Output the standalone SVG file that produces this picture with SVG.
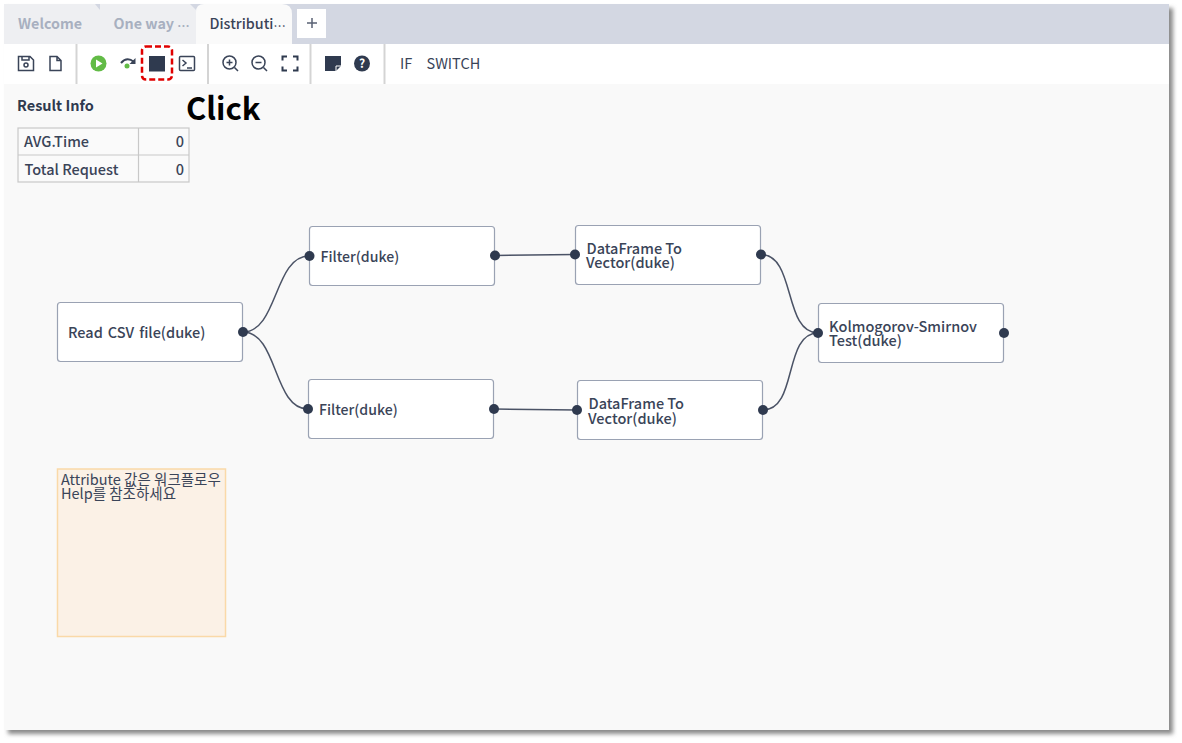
<svg xmlns="http://www.w3.org/2000/svg" width="1182" height="743" viewBox="0 0 1182 743">
<style>
text{font-family:"Noto Sans CJK KR","Noto Sans",sans-serif;fill:#3a4458;font-size:14.500px;font-weight:500}
.n{fill:#fff;stroke:#9aa2b3;stroke-width:1.2}
.p{fill:#2f3a4f}
.c{fill:none;stroke:#4b5366;stroke-width:1.5}
.i{fill:none;stroke:#3a4458;stroke-width:1.5}
.sep{stroke:#d4d4d4;stroke-width:2}
.tb{fill:#fafafa;stroke:#c8c8c8;stroke-width:1.2}
.tab{fill:#a8b0c0;font-weight:700}
.dots{font-size:11px;letter-spacing:0}
.f{font-size:14.100px}
</style>
<defs>
<filter id="sh" x="-2%" y="-2%" width="104%" height="104%"><feGaussianBlur stdDeviation="2"/></filter>
</defs>
<rect x="0" y="0" width="1182" height="743" fill="#fff"/>
<rect x="8" y="8" width="1165" height="726" fill="#8a8a8a" filter="url(#sh)"/>
<rect x="4" y="4" width="1165" height="726" fill="#f9f9f9"/>
<rect x="4" y="4" width="1165" height="40" fill="#d3d7e2"/>
<g id="tabs">
<path d="M4 4H95L100 10V44H4Z" fill="#eeeff2"/>
<path d="M100 4H190L196 10V44H100Z" fill="#eeeff2"/>
<path d="M196 44V12Q196 4 204 4H282Q292 4 292 14V44Z" fill="#fafafa"/>
<rect x="297" y="9" width="29" height="29" fill="#fff"/>
<text class="tab" x="18" y="29" style="font-size:14.300px">Welcome</text>
<text class="tab" x="113.500" y="29" style="font-size:14.300px">One way <tspan class="dots" dy="-2.500">⋯</tspan></text>
<text x="209.500" y="29" style="font-size:14.300px">Distributi<tspan class="dots" dy="-2.500">⋯</tspan></text>
<path d="M312 18V28M307 23H317" stroke="#5a6274" stroke-width="1.5"/>
</g>
<g id="toolbar">
<rect x="4" y="44" width="1165" height="40" fill="#fff"/>
<line class="sep" x1="76.500" y1="44" x2="76.500" y2="84"/>
<line class="sep" x1="208" y1="44" x2="208" y2="84"/>
<line class="sep" x1="310.500" y1="44" x2="310.500" y2="84"/>
<line class="sep" x1="384.500" y1="44" x2="384.500" y2="84"/>
<path class="i" d="M18.500 56.500H30L33.500 60V70.500H18.500ZM22 56.500V60H29V56.500"/>
<circle class="i" cx="26" cy="65" r="2"/>
<path class="i" d="M50 56.500H57L61 60.500V70.500H50ZM57 56.500V60.500H61"/>
<circle cx="98.500" cy="63.500" r="8" fill="#62bb46"/>
<path d="M96 59.500L102.500 63.500L96 67.500Z" fill="#fff"/>
<path d="M121 63Q127 56 134 62" fill="none" stroke="#3a4458" stroke-width="2"/>
<path d="M135.500 58V64H129.500Z" fill="#3a4458"/>
<circle cx="127" cy="66" r="2.500" fill="#62bb46"/>
<rect x="149" y="56" width="16" height="15.500" fill="#2f3a4f"/>
<rect x="142" y="46.500" width="30" height="33" rx="4" fill="none" stroke="#e00000" stroke-width="2.500" stroke-dasharray="6 3"/>
<rect class="i" x="179.500" y="56.500" width="15" height="14" rx="1"/>
<path class="i" d="M182.500 60L186 63L182.500 66M187 68H192"/>
<circle class="i" cx="229.500" cy="62.500" r="6.500"/>
<path class="i" d="M234.500 67.500L238 71M226.500 62.500H232.500M229.500 59.500V65.500"/>
<circle class="i" cx="258.500" cy="62.500" r="6.500"/>
<path class="i" d="M263.500 67.500L267 71M255.500 62.500H261.500"/>
<path d="M282.500 60.500V56.500H287M293 56.500H297.500V60.500M297.500 66.500V70.500H293M287 70.500H282.500V66.500" fill="none" stroke="#2f3a4f" stroke-width="2"/>
<path d="M325 56H341V66L336 71H325Z" fill="#2f3a4f"/>
<path d="M336 71V66H341" fill="none" stroke="#fff" stroke-width="1"/>
<circle cx="362" cy="63.500" r="8" fill="#2f3a4f"/>
<text x="362" y="68" text-anchor="middle" style="fill:#fff;font-size:12px;font-weight:700">?</text>
<text x="400" y="69" style="font-weight:400">IF</text>
<text x="426.500" y="69" style="font-weight:400">SWITCH</text>
</g>
<text x="186" y="120" style="font-size:31px;font-weight:700;fill:#000">Click</text>
<g id="result-info">
<text x="17" y="111" style="font-weight:700;fill:#2f3a4f">Result Info</text>
<rect class="tb" x="18" y="128" width="171" height="54"/>
<path d="M18 155H189M138.500 128V182" stroke="#c8c8c8" stroke-width="1.200"/>
<text x="24" y="147">AVG.Time</text>
<text x="24.500" y="175">Total Request</text>
<text x="184" y="147" text-anchor="end">0</text>
<text x="184" y="175" text-anchor="end">0</text>
</g>
<g id="connectors">
<path class="c" d="M243 332C278 332 274 256 309 256"/>
<path class="c" d="M243 332C278 332 273 409 308 409"/>
<path class="c" d="M495 255.500L575 254.500"/>
<path class="c" d="M494 409L577 410"/>
<path class="c" d="M761 254.500C796 254.500 783 333 818 333"/>
<path class="c" d="M763 410C798 410 783 333 818 333"/>
</g>
<g id="node-read"><rect class="n" x="57.500" y="302.500" width="185" height="59" rx="3"/><circle class="p" cx="243" cy="332" r="5"/><text x="68" y="338" word-spacing="1.700">Read CSV file(duke)</text></g>
<g id="node-filter1"><rect class="n" x="309.500" y="226.500" width="185" height="59" rx="3"/><circle class="p" cx="309.500" cy="256" r="5"/><circle class="p" cx="495" cy="255.500" r="5"/><text class="f" x="320.500" y="262">Filter(duke)</text></g>
<g id="node-filter2"><rect class="n" x="308.500" y="379.500" width="185" height="59" rx="3"/><circle class="p" cx="308" cy="409" r="5"/><circle class="p" cx="494" cy="409" r="5"/><text class="f" x="319" y="415">Filter(duke)</text></g>
<g id="node-df1"><rect class="n" x="575.500" y="225.500" width="185" height="59" rx="3"/><circle class="p" cx="575" cy="254.500" r="5"/><circle class="p" cx="761" cy="254.500" r="5"/><text x="586.500" y="253.500">DataFrame To</text><text x="586" y="268">Vector(duke)</text></g>
<g id="node-df2"><rect class="n" x="577.500" y="380.500" width="185" height="59" rx="3"/><circle class="p" cx="577" cy="410" r="5"/><circle class="p" cx="763" cy="410" r="5"/><text x="588.500" y="409">DataFrame To</text><text x="588" y="423.500">Vector(duke)</text></g>
<g id="node-ks"><rect class="n" x="818.500" y="303.500" width="185" height="59" rx="3"/><circle class="p" cx="818" cy="333" r="5"/><circle class="p" cx="1004" cy="333" r="5"/><text x="829" y="332">Kolmogorov-Smirnov</text><text x="829" y="346">Test(duke)</text></g>
<g id="note"><rect x="57.500" y="469" width="168" height="167.500" fill="#fbf1e6" stroke="#fad9a8" stroke-width="1.500"/><text x="61" y="485" style="font-weight:400">Attribute 값은 워크플로우</text><text x="61" y="499" style="font-weight:400">Help를 참조하세요</text></g>
</svg>
